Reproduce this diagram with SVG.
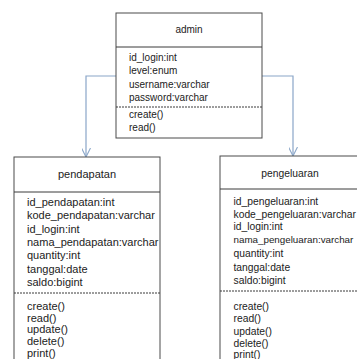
<svg xmlns="http://www.w3.org/2000/svg" width="357" height="359" viewBox="0 0 357 359">
  <style>
    .box { fill: #ffffff; stroke: #4a4a4a; stroke-width: 1; }
    .sep { stroke: #3a3a3a; stroke-width: 1; }
    .dash { stroke: #3a3a3a; stroke-width: 1; stroke-dasharray: 2 1; }
    .t { font-family: "Liberation Sans", Arial, sans-serif; fill: #222222; }
    .title { text-anchor: middle; }
    .conn { fill: none; stroke: #8aa6c8; stroke-width: 1.2; }
  </style>
  <defs>
    <marker id="open-arrow" viewBox="0 0 10 10" refX="10" refY="5" markerWidth="9" markerHeight="9" markerUnits="userSpaceOnUse" orient="auto">
      <path d="M0,0 L10,5 L0,10" fill="none" stroke="#8aa6c8" stroke-width="1.2"/>
    </marker>
  </defs>
  <rect width="357" height="359" fill="#ffffff"/>

  <g id="connectors">
    <path class="conn" d="M116,76 H86 V157" marker-end="url(#open-arrow)"/>
    <path class="conn" d="M262,76 H293 V156" marker-end="url(#open-arrow)"/>
  </g>

  <g id="admin">
    <rect class="box" x="116" y="13" width="146" height="125"/>
    <line class="sep" x1="116" y1="47" x2="262" y2="47"/>
    <line class="dash" x1="116" y1="107" x2="262" y2="107"/>
    <g class="t" font-size="10">
      <text class="title" x="189" y="33">admin</text>
      <text x="129" y="61">id_login:int</text>
      <text x="129" y="74">level:enum</text>
      <text x="129" y="87.5">username:varchar</text>
      <text x="129" y="101">password:varchar</text>
      <text x="129" y="118">create()</text>
      <text x="129" y="131">read()</text>
    </g>
  </g>

  <g id="pendapatan">
    <rect class="box" x="14" y="157" width="146" height="210"/>
    <line class="sep" x1="14" y1="192" x2="160" y2="192"/>
    <line class="dash" x1="14" y1="293" x2="160" y2="293"/>
    <g class="t" font-size="11">
      <text class="title" x="87" y="178">pendapatan</text>
      <text x="27" y="205.5">id_pendapatan:int</text>
      <text x="27" y="219">kode_pendapatan:varchar</text>
      <text x="27" y="232.5">id_login:int</text>
      <text x="27" y="246">nama_pendapatan:varchar</text>
      <text x="27" y="259">quantity:int</text>
      <text x="27" y="272.5">tanggal:date</text>
      <text x="27" y="286">saldo:bigint</text>
      <text x="27" y="309.5">create()</text>
      <text x="27" y="321.5">read()</text>
      <text x="27" y="333">update()</text>
      <text x="27" y="345">delete()</text>
      <text x="27" y="357">print()</text>
    </g>
  </g>

  <g id="pengeluaran">
    <rect class="box" x="220" y="156" width="146" height="210"/>
    <line class="sep" x1="220" y1="189" x2="366" y2="189"/>
    <line class="dash" x1="220" y1="291" x2="366" y2="291"/>
    <g class="t" font-size="10.3">
      <text class="title" x="290" y="177">pengeluaran</text>
      <text x="233.5" y="204.5">id_pengeluaran:int</text>
      <text x="233.5" y="217.5">kode_pengeluaran:varchar</text>
      <text x="233.5" y="230">id_login:int</text>
      <text x="233.5" y="243" font-size="9.8">nama_pengeluaran:varchar</text>
      <text x="233.5" y="256.5">quantity:int</text>
      <text x="233.5" y="271">tanggal:date</text>
      <text x="233.5" y="284">saldo:bigint</text>
      <text x="233.5" y="310">create()</text>
      <text x="233.5" y="322">read()</text>
      <text x="233.5" y="334.5">update()</text>
      <text x="233.5" y="346.5">delete()</text>
      <text x="233.5" y="358">print()</text>
    </g>
  </g>
</svg>
